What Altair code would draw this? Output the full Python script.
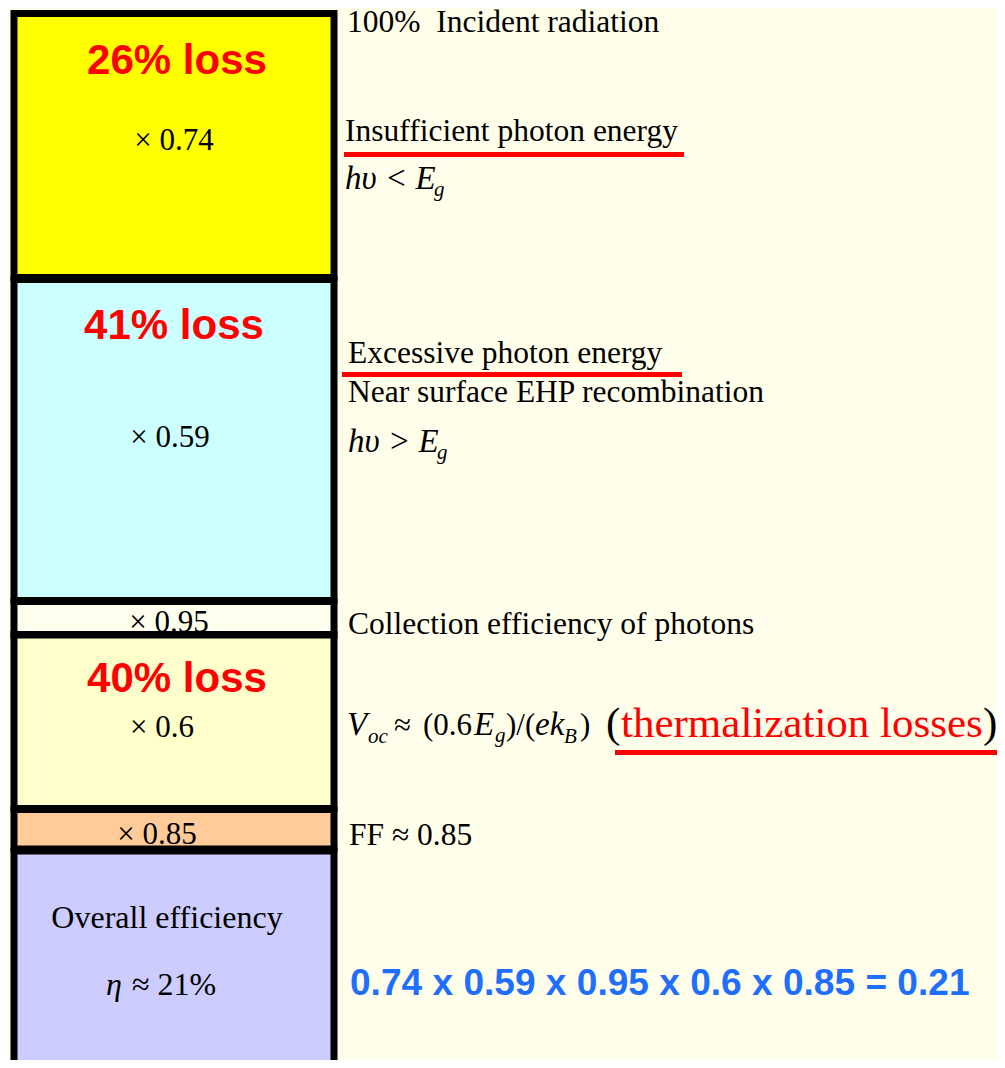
import altair as alt
import pandas as pd

# ---------------- data ----------------
stages = ["Insufficient photon energy", "Excessive photon energy", "Collection efficiency",
          "Open-circuit voltage", "Fill factor", "Overall efficiency"]
factors = [0.74, 0.59, 0.95, 0.6, 0.85]
losses = [26, 41, None, 40, None]
overall_pct = 21
# stage box extents in diagram units (top -> bottom)
box_top = [13.5, 279.5, 601.5, 634.5, 809.5, 851]
box_bottom = [277.5, 600.5, 635, 808.5, 849, 1068.5]
box_left = 14
box_right = 334

# ---------------- styles ----------------
BG = "#FFFEEA"
box_fill = ["#FFFF00", "#CCFFFF", "#FFFFEE", "#FFFFCC", "#FFCC99", "#CCCCFF"]
SERIF = "Liberation Serif"
SANS = "Liberation Sans"
RED = "#FF0000"
BLUE = "#1F6FFF"

W, H = 989, 1052
XS = alt.Scale(domain=[8, 8 + W], range=[0, W])
YS = alt.Scale(domain=[8, 8 + H], range=[0, H])

boxes = pd.DataFrame({
    "stage": stages,
    "x0": [box_left] * 6, "x1": [box_right] * 6,
    "top": box_top, "bottom": box_bottom, "fill": box_fill,
})

def enc_xy(ch):
    return ch.encode(
        x=alt.X("x:Q", scale=XS, axis=None),
        y=alt.Y("y:Q", scale=YS, axis=None),
        text="text:N",
    )

def text_layer(rows, align="left", font=SERIF, size=30, color="black",
               weight="normal", style="normal"):
    df = pd.DataFrame(rows, columns=["x", "y", "text"])
    m = alt.Chart(df).mark_text(align=align, baseline="alphabetic", font=font,
                                fontSize=size, color=color, fontWeight=weight,
                                fontStyle=style)
    return enc_xy(m)

fill_layer = alt.Chart(boxes).mark_rect(strokeWidth=0).encode(
    x=alt.X("x0:Q", scale=XS, axis=None), x2="x1:Q",
    y=alt.Y("top:Q", scale=YS, axis=None), y2="bottom:Q",
    fill=alt.Fill("fill:N", scale=None),
)
stroke_layer = alt.Chart(boxes).mark_rect(fillOpacity=0, stroke="black", strokeWidth=7).encode(
    x=alt.X("x0:Q", scale=XS, axis=None), x2="x1:Q",
    y=alt.Y("top:Q", scale=YS, axis=None), y2="bottom:Q",
)

# labels inside boxes
factor_pos = [(174, 150), (170, 447), (169, 632), (162, 737), (157, 844)]
factor_rows = [(p[0], p[1], f"\u00d7 {f}") for p, f in zip(factor_pos, factors)]
box_text = text_layer(factor_rows, align="center", size=31)
overall_text = text_layer([(167, 928, "Overall efficiency")], align="center", size=32)
loss_pos = [(177, 74), (174, 339), None, (177, 692), None]
loss_rows = [(p[0], p[1], f"{l}% loss") for p, l in zip(loss_pos, losses) if l is not None]
loss_text = text_layer(loss_rows, align="center", font=SANS, size=42, color=RED, weight="bold")
eta_sym = text_layer([(106, 995, "\u03b7")], size=32, style="italic")
eta_val = text_layer([(132, 995, f"\u2248 {overall_pct}%")], size=32)

# right-hand descriptions
right_rows = [
    (347, 32, "100%\u00a0 Incident radiation"),
    (345, 141, stages[0]),
    (348, 363, stages[1]),
    (348, 402, "Near surface EHP recombination"),
    (348, 634, "Collection efficiency of photons"),
    (349, 845, f"FF \u2248 {factors[4]}"),
]
right_text = text_layer(right_rows, size=31.5)
formula_up = text_layer([
    (394, 735, "\u2248"),
    (423, 735, f"({factors[3]}"),
    (506, 735, ")/("),
    (580, 735, ")"),
], size=31)
paren_big = text_layer([(606, 737, "("), (983, 737, ")")], size=43)
italic_text = text_layer([
    (345, 189, "h\u03c5 < E"),
    (348, 452, "h\u03c5 > E"),
    (347, 735, "V"),
    (474, 735, "E"),
    (535, 735, "ek"),
], size=33, style="italic")
sub_text = text_layer([
    (434, 196, "g"),
    (437, 459, "g"),
    (368, 743, "oc"),
    (495, 742, "g"),
], size=21, style="italic")
sub_b = text_layer([(564, 743, "B")], size=21, style="italic")
therm = text_layer([(621, 737, "thermalization losses")], size=43, color=RED)

factor_str = " x ".join(str(f) for f in factors)
product = 1.0
for f in factors:
    product *= f
blue = text_layer([(350, 995, f"{factor_str} = {product:.2f}")], font=SANS, size=37.1,
                  color=BLUE, weight="bold")

underlines = pd.DataFrame({"x": [344, 342, 615], "x2": [684, 682, 999], "y": [154.5, 374.5, 752.5]})
rule_layer = alt.Chart(underlines).mark_rule(color=RED, strokeWidth=5).encode(
    x=alt.X("x:Q", scale=XS, axis=None), x2="x2:Q",
    y=alt.Y("y:Q", scale=YS, axis=None),
)

chart = alt.layer(
    fill_layer, box_text, overall_text, loss_text, eta_sym, eta_val, stroke_layer,
    right_text, formula_up, paren_big, italic_text, sub_text, sub_b, therm, blue, rule_layer,
).properties(
    width=W, height=H, background=BG, padding=0,
    autosize=alt.AutoSizeParams(type="none"),
).configure_view(strokeWidth=0)

chart.save("out.html", embed_options={"renderer": "svg", "actions": False})
